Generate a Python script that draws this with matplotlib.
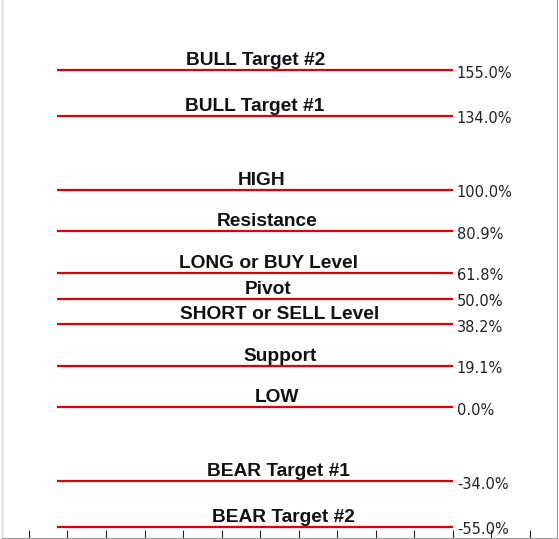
import matplotlib
matplotlib.use("Agg")
import matplotlib.pyplot as plt

# level names and retracement percentages
level_names = ["BULL Target #2", "BULL Target #1", "HIGH", "Resistance",
               "LONG or BUY Level", "Pivot", "SHORT or SELL Level",
               "Support", "LOW", "BEAR Target #1", "BEAR Target #2"]
level_values = [155.0, 134.0, 100.0, 80.9, 61.8, 50.0, 38.2, 19.1, 0.0, -34.0, -55.0]
label_centers = [5.88, 5.86, 6.05, 6.18, 6.21, 6.21, 6.52, 6.52, 6.44, 6.47, 6.62]
x_ticks = list(range(14))


def main():
    fig = plt.figure(figsize=(5.59, 5.39), dpi=100)
    ax = fig.add_axes([2 / 559, 1 / 539, 555 / 559, 538 / 539])
    ax.set_xlim(-0.70, 13.71)
    ax.set_ylim(-60.0, 187.3)

    for name, val, cx in zip(level_names, level_values, label_centers):
        ax.plot([0.73, 11.0], [val, val], color="#e00000", lw=1.6,
                solid_capstyle="butt")
        ax.annotate(name, (cx, val), xytext=(0, 3.6), textcoords="offset points",
                    ha="center", va="baseline", fontsize=13.8, fontweight="bold",
                    family="Liberation Sans", color="#111111")
        ax.annotate(f"{val:.1f}%", (11.0, val), xytext=(3, -2),
                    textcoords="offset points", ha="left", va="center",
                    fontsize=10.5, family="DejaVu Sans", color="#222222")

    ax.set_xticks(x_ticks)
    ax.set_xticklabels([])
    ax.set_yticks([])
    ax.tick_params(axis="x", direction="in", length=6, width=0.8,
                   color="#222222")
    ax.spines["top"].set_visible(False)
    ax.spines["left"].set_color("#e6e6e6")
    ax.spines["left"].set_linewidth(2)
    ax.spines["right"].set_color("#999999")
    ax.spines["bottom"].set_color("#999999")

    fig.savefig("out.png", dpi=100)


if __name__ == "__main__":
    main()
